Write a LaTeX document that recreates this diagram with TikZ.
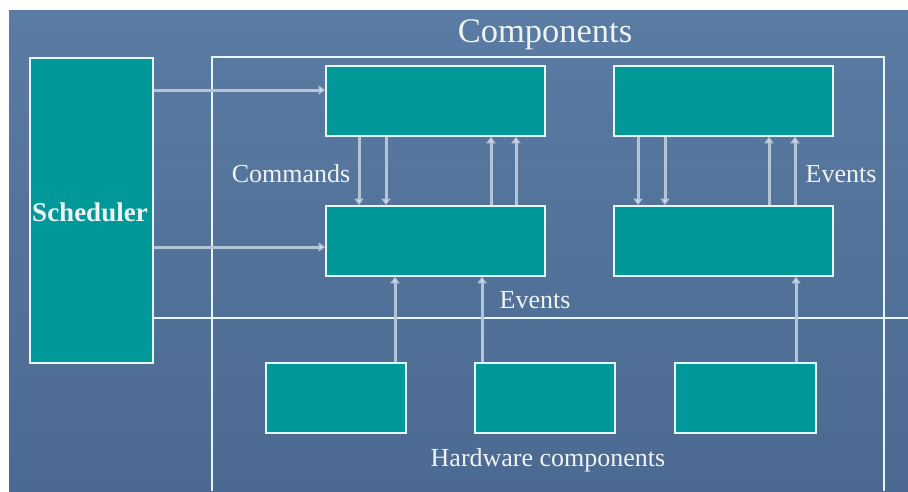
\documentclass[tikz,border=0pt]{standalone}
\usepackage{fontspec}
\setmainfont{Liberation Serif}
\usetikzlibrary{arrows.meta,calc}

\definecolor{slate}{RGB}{90,123,163}
\definecolor{slatedark}{RGB}{76,106,145}
\definecolor{boxfill}{RGB}{0,152,152}
\definecolor{edge}{RGB}{228,246,246}
\definecolor{wire}{RGB}{182,196,215}
\definecolor{ink}{RGB}{240,243,243}

\tikzset{
  block/.style={draw=edge, line width=1.8pt, fill=boxfill, inner sep=0pt,
    anchor=north west},
  frame/.style={draw=edge, line width=1.8pt},
  arr/.style={draw=wire, line width=3pt,
    -{Triangle[width=9pt,length=6.5pt,fill=wire!35!white]}},
  lbl/.style={text=ink, font=\fontsize{26}{29}\selectfont, inner sep=0pt},
}

\begin{document}
\begin{tikzpicture}[x=1pt,y=-1pt]
\useasboundingbox (0,0) rectangle (908,491);
\fill[white] (0,0) rectangle (908,491);
\shade[top color=slate, bottom color=slatedark] (9,10) rectangle (908,491);

% scheduler and component blocks
\node[block, minimum width=123pt, minimum height=305pt] (sched) at (29,57) {};
\node[text=ink, font=\bfseries\fontsize{27}{30}\selectfont, inner sep=0pt]
  (schedtxt) at ($(sched.west)+(61,2)$) {Scheduler};

\node[block, minimum width=219pt, minimum height=70pt] (tl) at (325,65) {};
\node[block, minimum width=219pt, minimum height=70pt] (tr) at (613,65) {};
\node[block, minimum width=219pt, minimum height=70pt] (ml) at (325,205) {};
\node[block, minimum width=219pt, minimum height=70pt] (mr) at (613,205) {};

\node[block, minimum width=140pt, minimum height=70pt] (hw1) at (265,362) {};
\node[block, minimum width=140pt, minimum height=70pt] (hw2) at (474,362) {};
\node[block, minimum width=141pt, minimum height=70pt] (hw3) at (674,362) {};

% components frame, open at the bottom, and the hardware divider
\coordinate (fbl) at (212,491);
\coordinate (fbr) at (884,491);
\draw[frame] (fbl) |- (884,57) -- (fbr);
\coordinate (divR) at (908,318);
\draw[frame] ($(sched.north east)+(0,261)$) -- (divR);

% scheduler to components
\draw[arr] ($(sched.north east)+(0,33)$) coordinate (s1) -- (s1 -| tl.west);
\draw[arr] ($(sched.north east)+(0,190)$) coordinate (s2) -- (s2 -| ml.west);

% commands (down) and events (up), left pair
\draw[arr] ($(tl.south west)+(34,0)$) coordinate (c1) -- (c1 |- ml.north);
\draw[arr] ($(tl.south west)+(61,0)$) coordinate (c2) -- (c2 |- ml.north);
\draw[arr] ($(ml.north west)+(166,0)$) coordinate (e1) -- (e1 |- tl.south);
\draw[arr] ($(ml.north west)+(191,0)$) coordinate (e2) -- (e2 |- tl.south);

% right pair
\draw[arr] ($(tr.south west)+(25,0)$) coordinate (c3) -- (c3 |- mr.north);
\draw[arr] ($(tr.south west)+(52,0)$) coordinate (c4) -- (c4 |- mr.north);
\draw[arr] ($(mr.north west)+(156,0)$) coordinate (e3) -- (e3 |- tr.south);
\draw[arr] ($(mr.north west)+(182,0)$) coordinate (e4) -- (e4 |- tr.south);

% hardware events
\draw[arr] ($(hw1.north west)+(130,0)$) coordinate (h1) -- (h1 |- ml.south);
\draw[arr] ($(hw2.north west)+(8,0)$) coordinate (h2) -- (h2 |- ml.south);
\draw[arr] ($(hw3.north west)+(122,0)$) coordinate (h3) -- (h3 |- mr.south);

% labels
\node[text=ink, font=\fontsize{34.5}{38}\selectfont, inner sep=0pt] (title) at (545,35) {Components};
\node[lbl] (cmd) at (291,174) {Commands};
\node[lbl] (evR) at (841,174) {Events};
\node[lbl] (evM) at (535,300) {Events};
\node[lbl] (hwl) at (548,460) {Hardware components};
\end{tikzpicture}
\end{document}
